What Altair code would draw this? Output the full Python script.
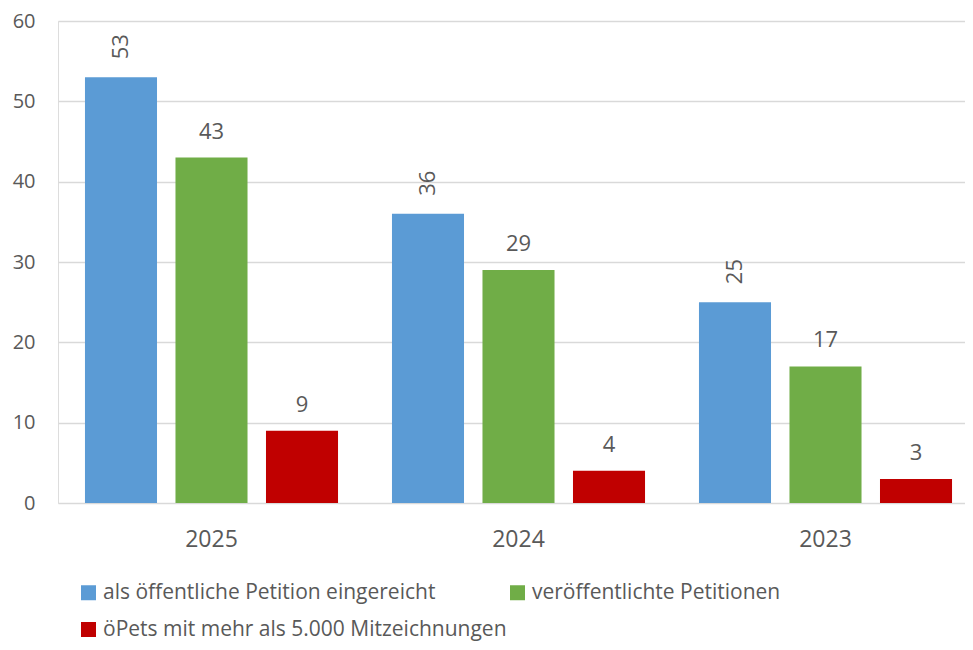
import altair as alt
import pandas as pd

years = ["2025", "2024", "2023"]
series = ["als öffentliche Petition eingereicht", "veröffentlichte Petitionen", "öPets mit mehr als 5.000 Mitzeichnungen"]
eingereicht = [53, 36, 25]
veroeffentlicht = [43, 29, 17]
ueber5000 = [9, 4, 3]
colors = ["#5B9BD5", "#70AD47", "#C00000"]
y_ticks = [0, 10, 20, 30, 40, 50, 60]

rows = []
for vals, s in zip([eingereicht, veroeffentlicht, ueber5000], series):
    for yr, v in zip(years, vals):
        rows.append({"Jahr": yr, "Serie": s, "Wert": v})
df = pd.DataFrame(rows)

FONT = "Open Sans"
TXT = "#595959"

x = alt.X("Jahr:N", sort=years, title=None,
          scale=alt.Scale(paddingInner=0, paddingOuter=0, range=[0, 921]),
          axis=alt.Axis(labelAngle=0, labelFontSize=23, labelColor=TXT, labelFont=FONT,
                        labelPadding=25, ticks=False, domain=False))
xo = alt.XOffset("Serie:N", sort=series,
                 scale=alt.Scale(paddingInner=0.204, paddingOuter=0.298))
y = alt.Y("Wert:Q", title=None,
          scale=alt.Scale(domain=[0, 60], nice=False),
          axis=alt.Axis(values=y_ticks, labelFontSize=20, labelColor=TXT, labelFont=FONT,
                        labelPadding=23, ticks=False, domain=False,
                        gridColor="#D9D9D9", gridWidth=1.5))

base = alt.Chart(df).encode(x=x, xOffset=xo, y=y)

bars = base.mark_bar().encode(
    color=alt.Color("Serie:N", sort=series,
                    scale=alt.Scale(domain=series, range=colors),
                    legend=alt.Legend(title=None, orient="none", legendX=20, legendY=561,
                                      values=series, direction="horizontal",
                                      columns=2, columnPadding=0, rowPadding=15,
                                      symbolType="square", symbolSize=225, symbolStrokeWidth=0,
                                      labelFontSize=21, labelColor=TXT, labelFont=FONT,
                                      labelOffset=4, labelLimit=600))
)

rot = base.transform_filter(alt.datum.Serie == series[0]).mark_text(
    angle=270, align="left", baseline="middle", dx=18, fontSize=22, font=FONT, color=TXT
).encode(text="Wert:Q")

hor = base.transform_filter(alt.datum.Serie != series[0]).mark_text(
    align="center", baseline="alphabetic", dy=-19, fontSize=22, font=FONT, color=TXT
).encode(text="Wert:Q")

chart = alt.layer(bars, rot, hor).properties(
    width=907, height=482, autosize="none",
    padding={"left": 50, "top": 13, "right": 0, "bottom": 139}
).configure_view(stroke=None).configure(background="white")

chart.save("out.html", embed_options={"renderer": "svg", "actions": False})
